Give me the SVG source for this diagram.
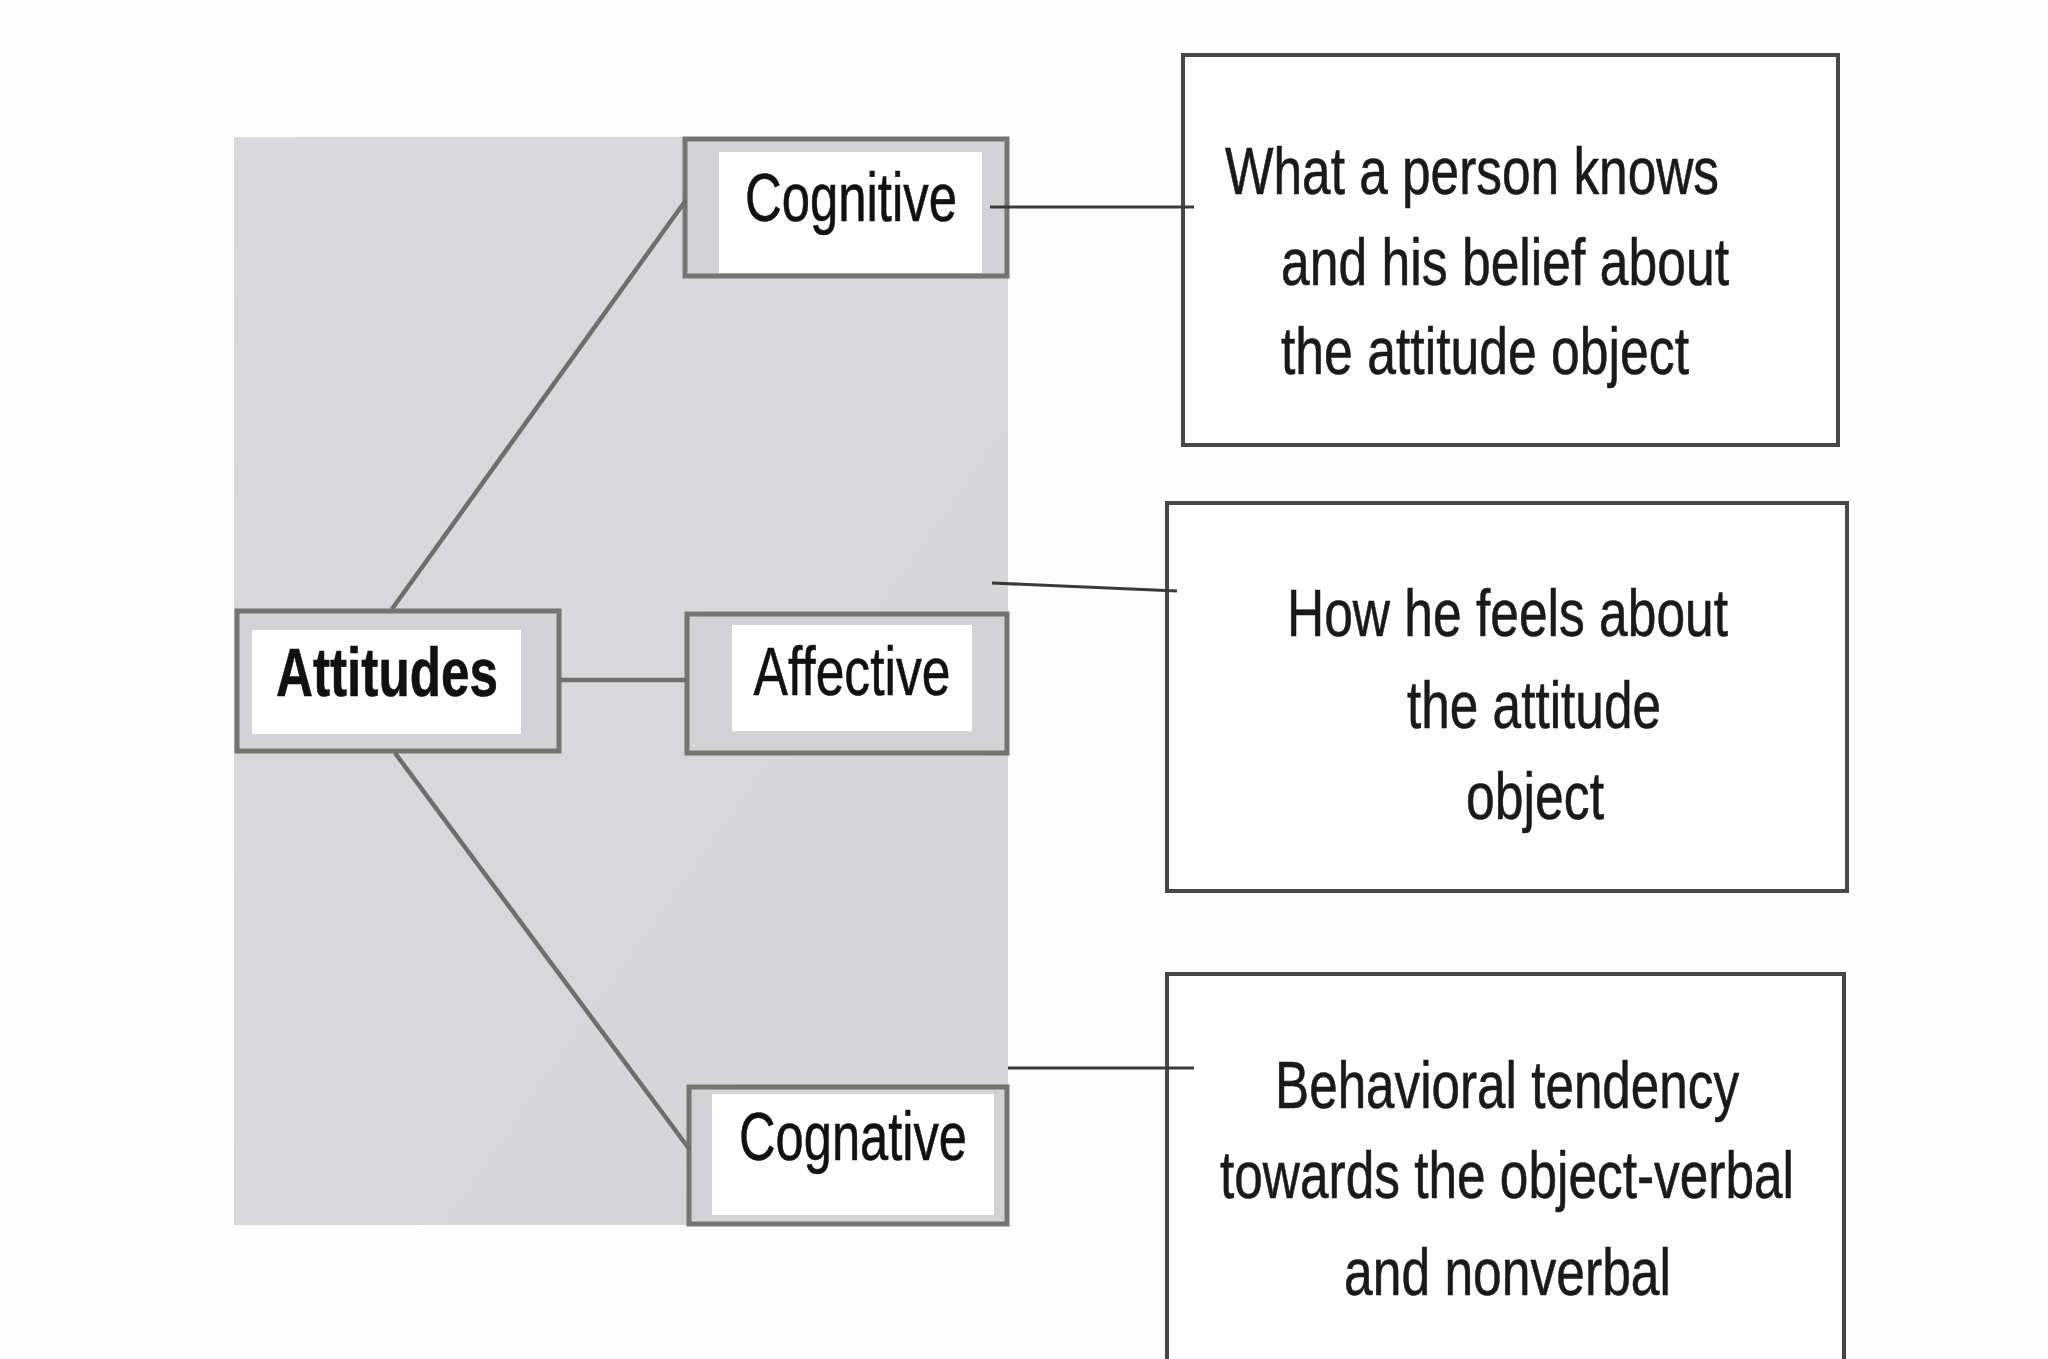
<svg xmlns="http://www.w3.org/2000/svg" width="2048" height="1359" viewBox="0 0 2048 1359">
  <defs>
    <linearGradient id="bg" x1="0" y1="0" x2="1" y2="1">
      <stop offset="0" stop-color="#d9d9db"/>
      <stop offset="0.5" stop-color="#d8d8da"/>
      <stop offset="1" stop-color="#d4d4d6"/>
    </linearGradient>
  </defs>
  <style>
    .outer { fill: #d3d3d5; stroke: #747474; stroke-width: 5; }
    .inner { fill: #ffffff; }
    .lbl { font-family: "Liberation Sans", Arial, sans-serif; font-size: 68px; fill: #111111; stroke: #111111; stroke-width: 0.6; text-anchor: middle; }
    .bold { font-weight: bold; }
    .desc { fill: #ffffff; stroke: #474747; stroke-width: 4; }
    .dtxt { font-family: "Liberation Sans", Arial, sans-serif; font-size: 66px; fill: #1a1a1a; stroke: #1a1a1a; stroke-width: 0.6; }
    .tree { stroke: #6e6e6e; stroke-width: 4.5; fill: none; }
    .link { stroke: #3a3a3a; stroke-width: 3; fill: none; }
  </style>
  <rect x="0" y="0" width="2048" height="1359" fill="#fdfdfd"/>
  <rect x="234" y="137" width="774" height="1088" fill="url(#bg)"/>

  <g id="node-attitudes">
    <rect class="outer" x="237" y="611" width="322" height="140"/>
    <rect class="inner" x="252" y="630" width="269" height="104"/>
    <text class="lbl bold" x="387" y="696" textLength="222" lengthAdjust="spacingAndGlyphs">Attitudes</text>
  </g>

  <g id="node-cognitive">
    <rect class="outer" x="685" y="139" width="322" height="137"/>
    <rect class="inner" x="719" y="152" width="263" height="121"/>
    <text class="lbl" x="851" y="221" textLength="212" lengthAdjust="spacingAndGlyphs">Cognitive</text>
  </g>

  <g id="node-affective">
    <rect class="outer" x="687" y="614" width="320" height="139"/>
    <rect class="inner" x="732" y="625" width="240" height="106"/>
    <text class="lbl" x="852" y="695" textLength="197" lengthAdjust="spacingAndGlyphs">Affective</text>
  </g>

  <g id="node-cognative">
    <rect class="outer" x="689" y="1087" width="318" height="137"/>
    <rect class="inner" x="712" y="1094" width="282" height="121"/>
    <text class="lbl" x="853" y="1160" textLength="228" lengthAdjust="spacingAndGlyphs">Cognative</text>
  </g>

  <g id="desc-cognitive">
    <rect class="desc" x="1183" y="55" width="655" height="390"/>
    <text class="dtxt" x="1225" y="194" textLength="494" lengthAdjust="spacingAndGlyphs">What a person knows</text>
    <text class="dtxt" x="1281" y="285" textLength="448" lengthAdjust="spacingAndGlyphs">and his belief about</text>
    <text class="dtxt" x="1281" y="374" textLength="408" lengthAdjust="spacingAndGlyphs">the attitude object</text>
  </g>

  <g id="desc-affective">
    <rect class="desc" x="1167" y="503" width="680" height="388"/>
    <text class="dtxt" x="1287" y="636" textLength="441" lengthAdjust="spacingAndGlyphs">How he feels about</text>
    <text class="dtxt" x="1407" y="728" textLength="254" lengthAdjust="spacingAndGlyphs">the attitude</text>
    <text class="dtxt" x="1466" y="819" textLength="138" lengthAdjust="spacingAndGlyphs">object</text>
  </g>

  <g id="desc-cognative">
    <rect class="desc" x="1167" y="974" width="677" height="420"/>
    <text class="dtxt" x="1275" y="1108" textLength="464" lengthAdjust="spacingAndGlyphs">Behavioral tendency</text>
    <text class="dtxt" x="1220" y="1198" textLength="574" lengthAdjust="spacingAndGlyphs">towards the object-verbal</text>
    <text class="dtxt" x="1344" y="1295" textLength="327" lengthAdjust="spacingAndGlyphs">and nonverbal</text>
  </g>

  <g id="connectors">
    <line class="tree" x1="392" y1="609" x2="686" y2="200"/>
    <line class="tree" x1="561" y1="680" x2="685" y2="680" stroke-width="6"/>
    <line class="tree" x1="395" y1="753" x2="690" y2="1150"/>
    <line class="link" x1="990" y1="207" x2="1194" y2="207"/>
    <line class="link" x1="992" y1="583" x2="1177" y2="591"/>
    <line class="link" x1="1008" y1="1068" x2="1194" y2="1068" stroke="#666666" stroke-width="4"/>
  </g>
</svg>
